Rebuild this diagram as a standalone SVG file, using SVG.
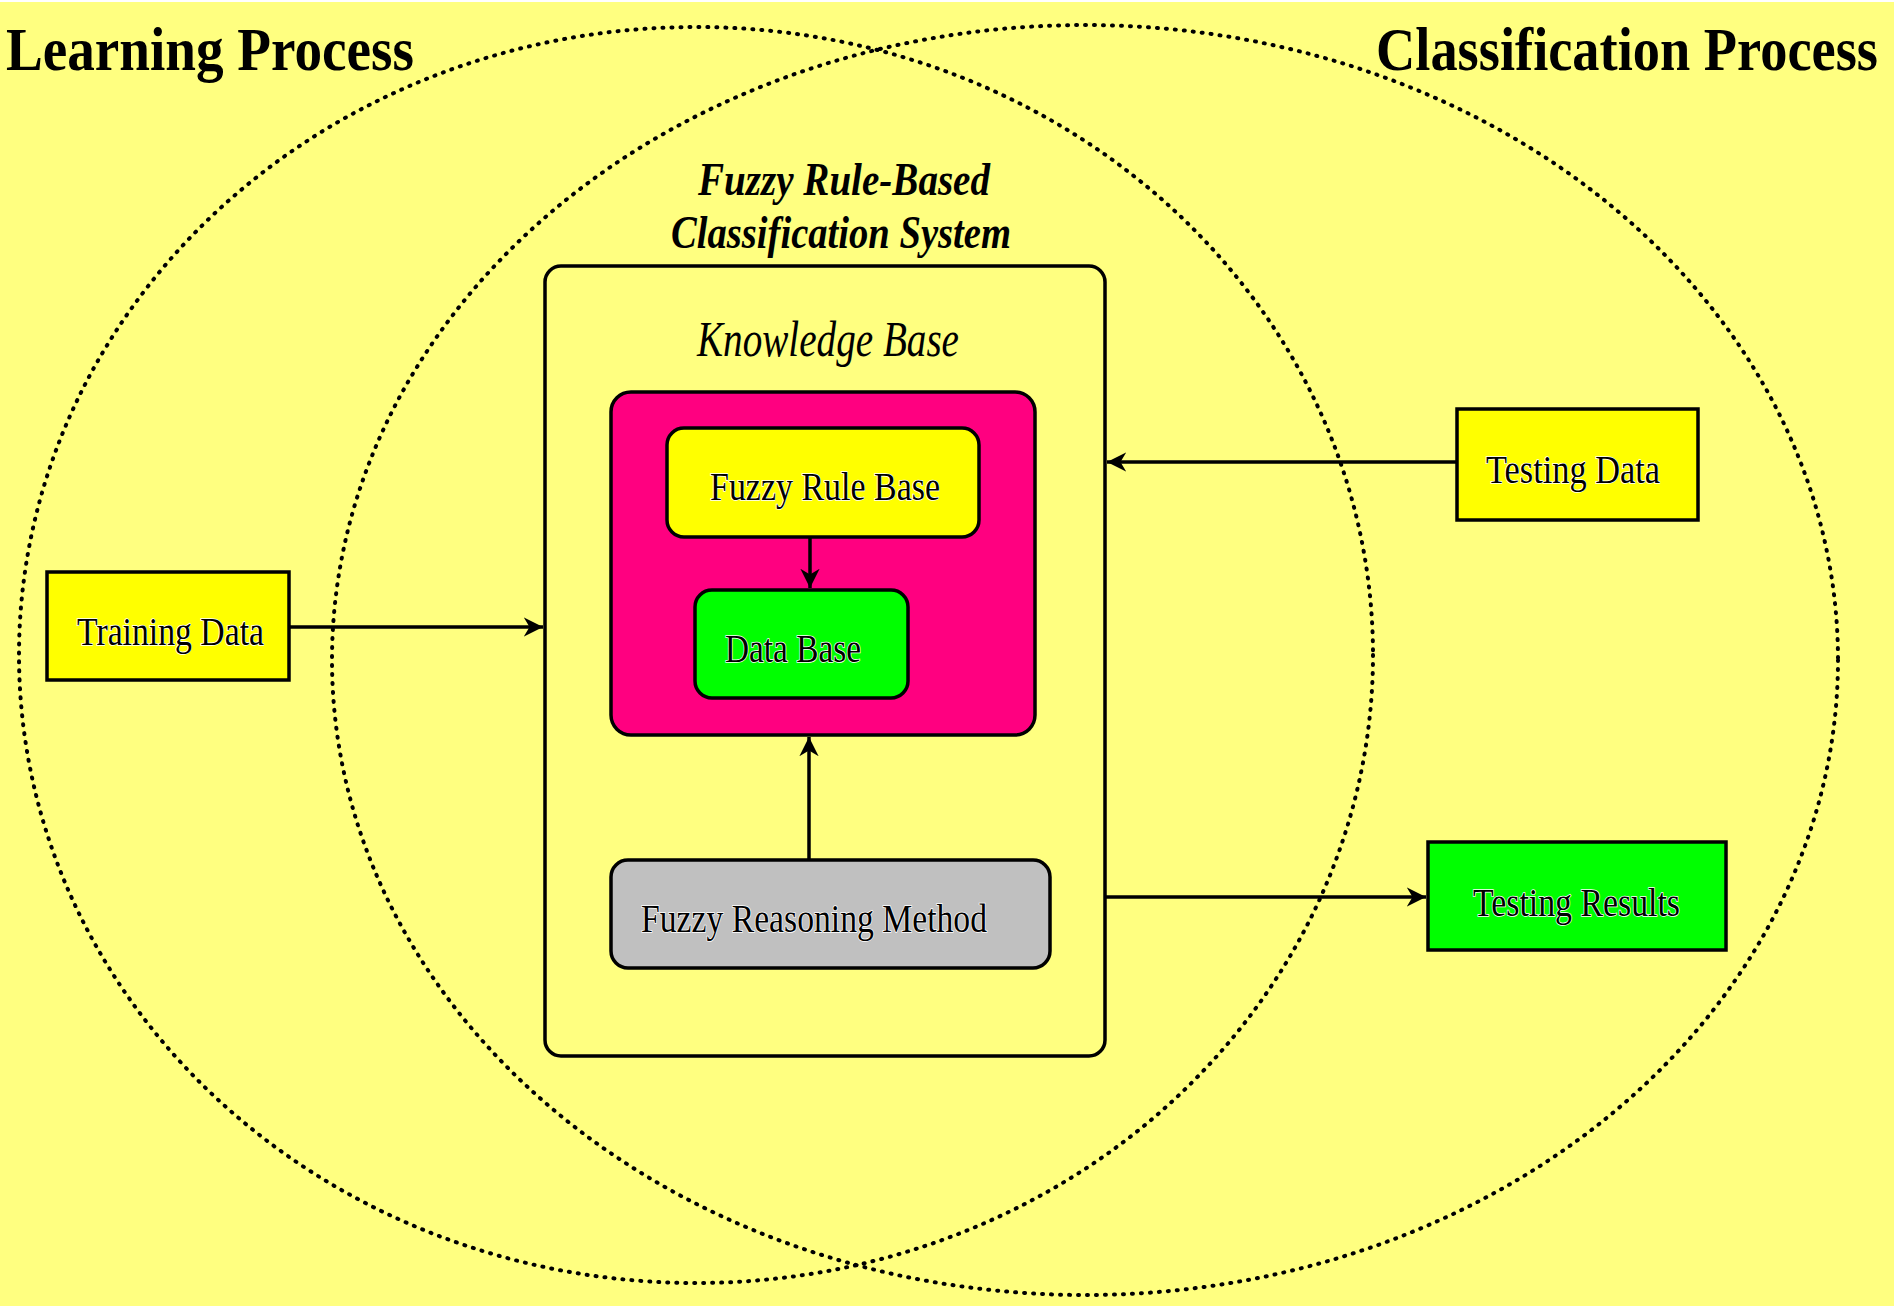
<svg xmlns="http://www.w3.org/2000/svg" width="1894" height="1306" viewBox="0 0 1894 1306">
<style>
.title{font-family:"Liberation Serif",serif;font-weight:bold;font-size:62px;fill:#000}
.sys{font-family:"Liberation Serif",serif;font-weight:bold;font-style:italic;font-size:46px;fill:#000}
.kb{font-family:"Liberation Serif",serif;font-style:italic;font-size:50px;fill:#000}
.lbl{font-family:"Liberation Serif",serif;font-size:40px;fill:#000;stroke:#fff;stroke-width:1.5px;paint-order:stroke fill}
.dot{fill:none;stroke:#000;stroke-width:4;stroke-dasharray:1 8;stroke-linecap:round}
.box{stroke:#000;stroke-width:3.5}
.conn{fill:none;stroke:#000;stroke-width:3.5}
</style>
<defs>
<marker id="arr" viewBox="0 0 10 10" refX="10" refY="5" markerWidth="5.5" markerHeight="5.5" orient="auto" markerUnits="strokeWidth">
<path d="M0,0 L10,5 L0,10 L3,5 z" fill="#000"/>
</marker>
</defs>
<rect x="0" y="0" width="1894" height="1306" fill="#FFFF80"/>
<rect x="0" y="0" width="1894" height="2" fill="#fff"/>
<g id="learning-process">
<ellipse class="dot" cx="696" cy="655" rx="677" ry="628"/>
<text class="title" x="6" y="70" textLength="408" lengthAdjust="spacingAndGlyphs">Learning Process</text>
</g>
<g id="classification-process">
<ellipse class="dot" cx="1085" cy="660" rx="753" ry="635"/>
<text class="title" x="1376" y="70" textLength="502" lengthAdjust="spacingAndGlyphs">Classification Process</text>
</g>
<g id="frbcs">
<text class="sys" x="698" y="195" textLength="292" lengthAdjust="spacingAndGlyphs">Fuzzy Rule-Based</text>
<text class="sys" x="671" y="248" textLength="340" lengthAdjust="spacingAndGlyphs">Classification System</text>
<rect class="box" x="545" y="266" width="560" height="790" rx="16" fill="none"/>
</g>
<g id="knowledge-base">
<text class="kb" x="697" y="356" textLength="262" lengthAdjust="spacingAndGlyphs">Knowledge Base</text>
<rect class="box" x="611" y="392" width="424" height="343" rx="20" fill="#FF0080"/>
</g>
<g id="fuzzy-rule-base">
<rect class="box" x="667" y="428" width="312" height="109" rx="17" fill="#FFFF00"/>
<text class="lbl" x="710" y="500" textLength="230" lengthAdjust="spacingAndGlyphs">Fuzzy Rule Base</text>
</g>
<g id="data-base">
<rect class="box" x="695" y="590" width="213" height="108" rx="17" fill="#00FF00"/>
<text class="lbl" x="725" y="662" textLength="136" lengthAdjust="spacingAndGlyphs">Data Base</text>
</g>
<g id="fuzzy-reasoning-method">
<rect class="box" x="611" y="860" width="439" height="108" rx="17" fill="#C0C0C0"/>
<text class="lbl" x="641" y="932" textLength="346" lengthAdjust="spacingAndGlyphs">Fuzzy Reasoning Method</text>
</g>
<g id="training-data">
<rect class="box" x="47" y="572" width="242" height="108" fill="#FFFF00"/>
<text class="lbl" x="77" y="645" textLength="187" lengthAdjust="spacingAndGlyphs">Training Data</text>
</g>
<g id="testing-data">
<rect class="box" x="1457" y="409" width="241" height="111" fill="#FFFF00"/>
<text class="lbl" x="1486" y="483" textLength="174" lengthAdjust="spacingAndGlyphs">Testing Data</text>
</g>
<g id="testing-results">
<rect class="box" x="1428" y="842" width="298" height="108" fill="#00FF00"/>
<text class="lbl" x="1473" y="916" textLength="207" lengthAdjust="spacingAndGlyphs">Testing Results</text>
</g>
<g id="connectors">
<line class="conn" x1="289" y1="627" x2="543" y2="627" marker-end="url(#arr)"/>
<line class="conn" x1="1457" y1="462" x2="1107" y2="462" marker-end="url(#arr)"/>
<line class="conn" x1="1105" y1="897" x2="1426" y2="897" marker-end="url(#arr)"/>
<line class="conn" x1="810" y1="537" x2="810" y2="588" marker-end="url(#arr)"/>
<line class="conn" x1="809" y1="860" x2="809" y2="737" marker-end="url(#arr)"/>
</g>
</svg>
